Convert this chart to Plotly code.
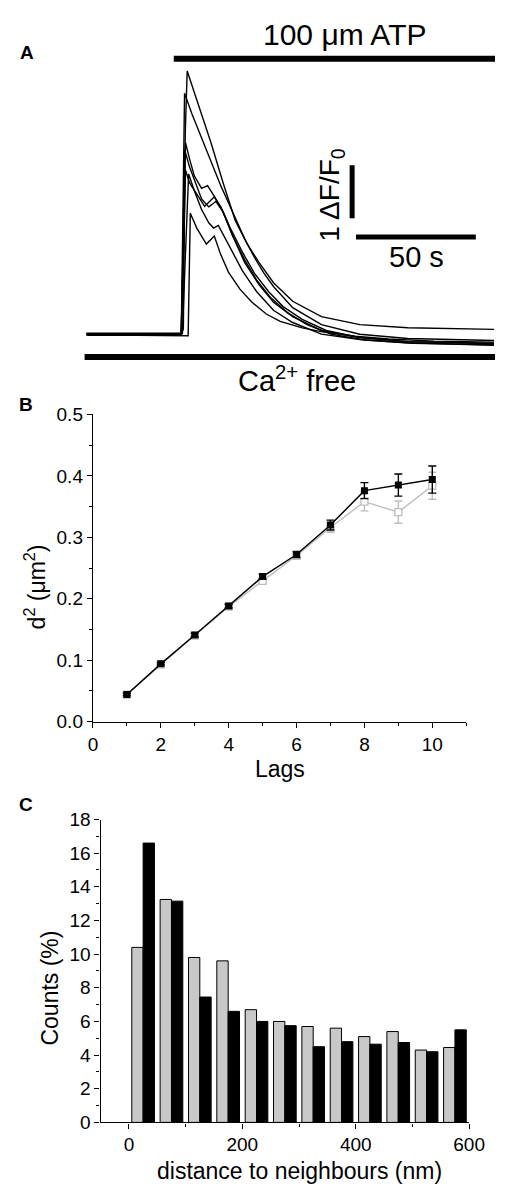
import plotly.graph_objects as go

W, H = 511, 1195
FONT = "Arial, Liberation Sans, sans-serif"

# ---- panel A: Ca2+ transients (time in s, amplitude in dF/F0)
traces_t = [
    [0, 39.5, 40.4, 41.2, 42, 47, 52, 57, 62, 67, 72, 78, 86, 98, 114, 134, 170],
    [0, 39.5, 40.2, 40.9, 44, 48, 52, 56, 61, 66, 70, 74, 78, 86, 98, 114, 134, 170],
    [0, 39.5, 40.4, 41.3, 43, 45, 48, 50.5, 53, 56, 60, 65, 70, 76, 82, 90, 100, 114, 134, 170],
    [0, 39.5, 40.2, 40.9, 43, 45.5, 48, 51, 54, 57, 61, 66, 71, 77, 84, 92, 102, 116, 136, 170],
    [0, 39.5, 40.4, 41.3, 43, 45.3, 49.3, 53.3, 57, 61, 66, 72, 78, 86, 98, 114, 134, 170],
    [0, 40, 41, 42.6, 45, 48, 51, 53, 55, 59, 65, 71, 78, 86, 98, 114, 134, 170],
    [0, 42.4, 43.3, 46, 50, 53.3, 56, 59.2, 64, 68.8, 75, 80.8, 90, 99, 112, 126, 145, 170],
]
traces_v = [
    [0.01, 0.0, 0.1, 3.8, 4.96, 4.3, 3.6, 2.85, 2.15, 1.7, 1.35, 0.97, 0.62, 0.33, 0.18, 0.12, 0.09],
    [0.0, -0.02, 2.2, 4.54, 4.15, 3.7, 3.25, 2.8, 2.3, 1.8, 1.45, 1.15, 0.9, 0.5, 0.18, 0.0, -0.08, -0.12],
    [0.02, 0.02, 1.6, 3.61, 3.3, 2.98, 2.75, 2.8, 2.62, 2.4, 2.0, 1.55, 1.15, 0.8, 0.52, 0.28, 0.07, -0.06, -0.14, -0.17],
    [-0.02, -0.02, 1.5, 3.48, 3.15, 2.85, 2.55, 2.4, 2.5, 2.3, 1.85, 1.4, 1.02, 0.68, 0.4, 0.18, 0.0, -0.11, -0.17, -0.2],
    [0.0, 0.0, 1.4, 3.09, 2.85, 2.69, 2.41, 2.59, 2.3, 1.85, 1.35, 0.93, 0.6, 0.33, 0.07, -0.07, -0.14, -0.18],
    [0.01, 0.01, 1.2, 3.02, 2.7, 2.35, 2.1, 2.0, 2.05, 1.7, 1.2, 0.8, 0.45, 0.22, 0.0, -0.1, -0.16, -0.21],
    [-0.01, -0.03, 2.28, 2.0, 1.7, 1.85, 1.5, 1.17, 0.85, 0.61, 0.38, 0.24, 0.12, 0.04, -0.04, -0.09, -0.13, -0.15],
]
atp_start, trace_end = 36.4, 170.4
ca_start = -0.8
scale_dff = 1      # vertical scale bar, dF/F0
scale_sec = 50     # horizontal scale bar, s

# ---- panel B: mean squared displacement vs lag
lags = [1, 2, 3, 4, 5, 6, 7, 8, 9, 10]
d2_black = [0.044, 0.094, 0.141, 0.188, 0.236, 0.272, 0.320, 0.376, 0.385, 0.394]
d2_black_err = [0.002, 0.002, 0.003, 0.003, 0.004, 0.005, 0.008, 0.013, 0.018, 0.022]
d2_gray = [0.044, 0.093, 0.140, 0.187, 0.229, 0.270, 0.316, 0.358, 0.341, 0.384]
d2_gray_err = [0.002, 0.002, 0.003, 0.003, 0.004, 0.005, 0.008, 0.015, 0.018, 0.022]

# ---- panel C: nearest neighbour distance histogram
bin_centres = [25, 75, 125, 175, 225, 275, 325, 375, 425, 475, 525, 575]
counts_gray = [10.4, 13.25, 9.8, 9.6, 6.7, 6.0, 5.7, 5.6, 5.1, 5.4, 4.3, 4.45]
counts_black = [16.6, 13.15, 7.45, 6.6, 6.0, 5.75, 4.5, 4.8, 4.65, 4.75, 4.2, 5.5]


def px(x):
    return x / W


def py(y):
    return 1 - y / H


fig = go.Figure()

for t, v in zip(traces_t, traces_v):
    fig.add_trace(go.Scatter(x=t, y=v, mode="lines", line=dict(color="black", width=1.4),
                             xaxis="x", yaxis="y", showlegend=False, hoverinfo="skip"))

fig.add_trace(go.Scatter(x=lags, y=d2_gray, mode="lines+markers", xaxis="x2", yaxis="y2",
                         line=dict(color="#bdbdbd", width=1.4),
                         marker=dict(symbol="square", size=7, color="white",
                                     line=dict(color="#bdbdbd", width=1.3)),
                         error_y=dict(type="data", array=d2_gray_err, color="#bdbdbd",
                                      thickness=1.4, width=4),
                         showlegend=False))
fig.add_trace(go.Scatter(x=lags, y=d2_black, mode="lines+markers", xaxis="x2", yaxis="y2",
                         line=dict(color="black", width=1.5),
                         marker=dict(symbol="square", size=7, color="black"),
                         error_y=dict(type="data", array=d2_black_err, color="black",
                                      thickness=1.4, width=4),
                         showlegend=False))

fig.add_trace(go.Bar(x=bin_centres, y=counts_gray, xaxis="x3", yaxis="y3",
                     marker=dict(color="#c8c8c8", line=dict(color="black", width=1)),
                     showlegend=False))
fig.add_trace(go.Bar(x=bin_centres, y=counts_black, xaxis="x3", yaxis="y3",
                     marker=dict(color="black", line=dict(color="black", width=1)),
                     showlegend=False))

axis_style = dict(showline=True, linecolor="black", linewidth=1.3, ticks="outside",
                  ticklen=5, tickwidth=1.2, tickcolor="black", showgrid=False, zeroline=False,
                  tickfont=dict(family=FONT, size=19, color="black"))

shapes = [
    dict(type="line", xref="x", yref="y", x0=atp_start, x1=trace_end, y0=5.19, y1=5.19,
         line=dict(color="black", width=6)),
    dict(type="line", xref="x", yref="y", x0=ca_start, x1=trace_end, y0=-0.43, y1=-0.43,
         line=dict(color="black", width=6)),
    dict(type="line", xref="x", yref="y", x0=110.8, x1=110.8, y0=2.185, y1=2.185 + scale_dff,
         line=dict(color="black", width=5)),
    dict(type="line", xref="x", yref="y", x0=112.4, x1=112.4 + scale_sec, y0=1.833, y1=1.833,
         line=dict(color="black", width=5)),
]

ann = []


def text(s, x, y, size, angle=0, bold=False):
    ann.append(dict(text="<b>%s</b>" % s if bold else s, x=px(x), y=py(y), xref="paper",
                    yref="paper", showarrow=False, textangle=angle, xanchor="center",
                    yanchor="middle", font=dict(family=FONT, size=size, color="black")))


text("A", 23, 43, 19, bold=True)
text("B", 22, 402, 19, bold=True)
text("C", 22, 809, 19, bold=True)
text("100 μm ATP", 354, 25, 30)
text("Ca<sup>2+</sup> free", 305, 376, 29)
text("1 ΔF/F<sub>0</sub>", 341, 188, 28, angle=-90)
text("50 s", 429, 251, 29)
text("d<sup>2</sup> (μm<sup>2</sup>)", 31, 587, 23, angle=-90)
text("Lags", 287, 773, 23)
text("Counts (%)", 47, 996, 23, angle=-90)
text("distance to neighbours (nm)", 307, 1182, 23)

fig.update_layout(
    width=W, height=H, margin=dict(l=0, r=0, t=0, b=0),
    paper_bgcolor="white", plot_bgcolor="white",
    barmode="group", bargap=0.2, bargroupgap=0,
    xaxis=dict(domain=[px(80), 1], range=[-2, 170.4], visible=False),
    yaxis=dict(domain=[py(370), py(40)], range=[-0.741, 5.370], visible=False),
    xaxis2=dict(domain=[px(91.7), px(481)], range=[0, 11], anchor="y2", dtick=2,
                minor=dict(dtick=1, ticks="outside", ticklen=3, tickcolor="black"),
                **axis_style),
    yaxis2=dict(domain=[py(724.3), py(411.7)], range=[0, 0.5], anchor="x2", dtick=0.1,
                tickformat=".1f",
                minor=dict(dtick=0.05, ticks="outside", ticklen=3, tickcolor="black"),
                **axis_style),
    xaxis3=dict(domain=[px(99.7), px(484)], range=[-50, 600], anchor="y3", dtick=200,
                tick0=0,
                minor=dict(dtick=100, ticks="outside", ticklen=3, tickcolor="black"),
                **axis_style),
    yaxis3=dict(domain=[py(1132.3), py(824)], range=[0, 18], anchor="x3", dtick=2,
                minor=dict(dtick=1, ticks="outside", ticklen=3, tickcolor="black"),
                **axis_style),
    shapes=shapes, annotations=ann,
)

# pin the graph to the window's top-left corner (no body margin / scrollbars)
pin = ("document.body.style.margin='0';document.body.style.overflow='hidden';"
       "var gd=document.getElementById('{plot_id}');"
       "gd.style.position='fixed';gd.style.left='0px';gd.style.top='0px';")
fig.write_html("out.html", post_script=pin, config={"displayModeBar": False})
